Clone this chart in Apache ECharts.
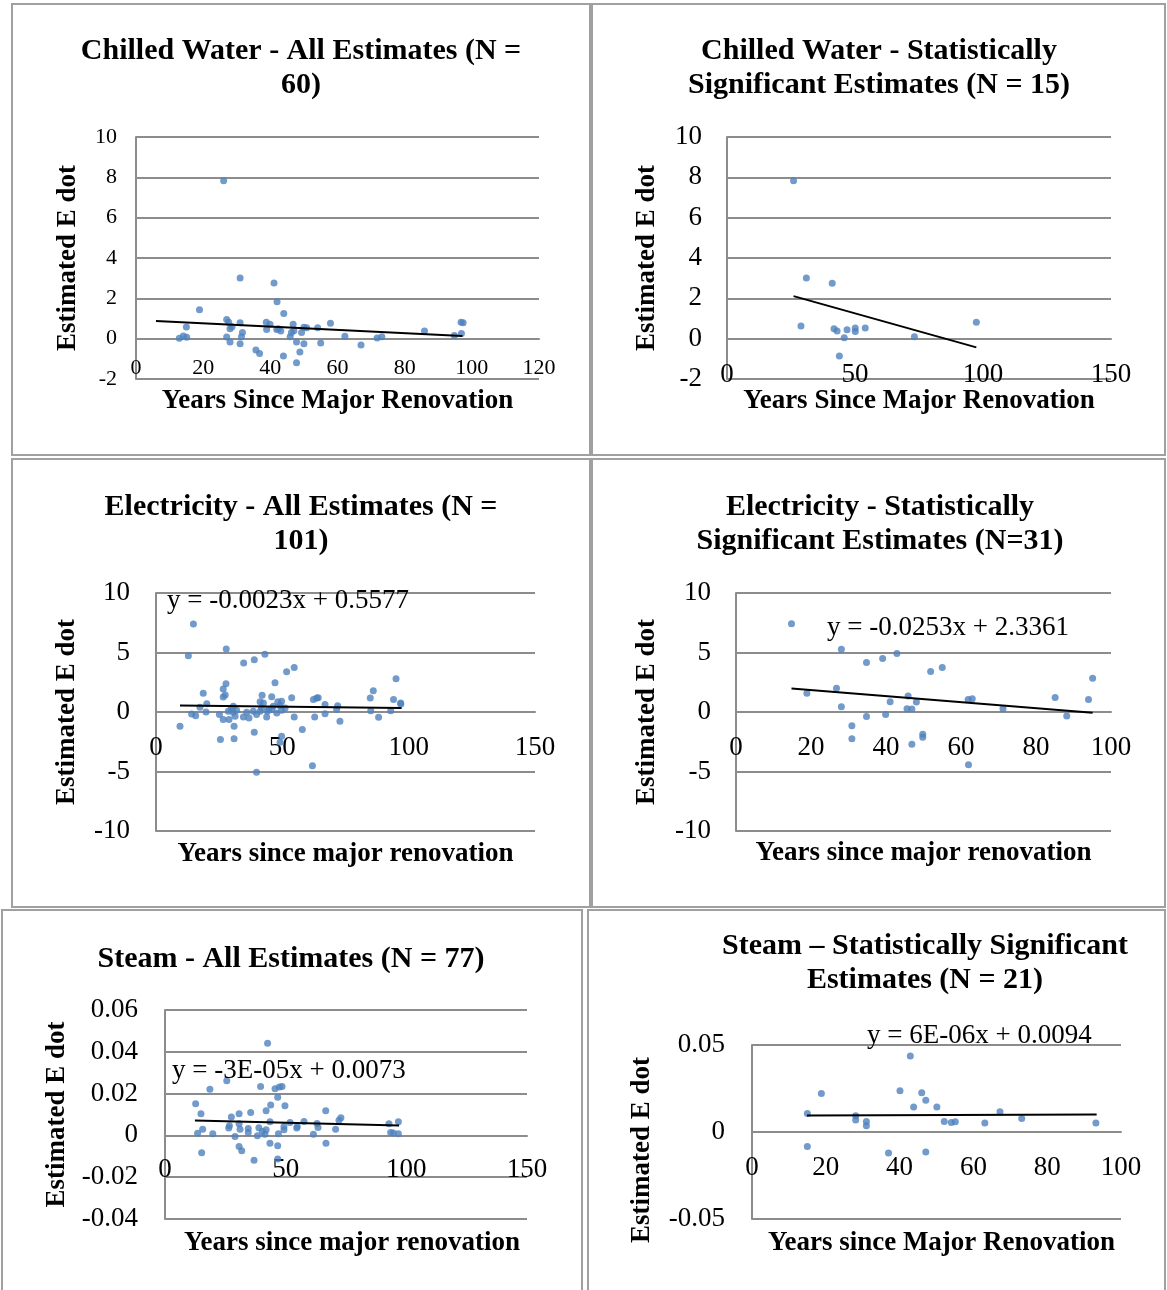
<!DOCTYPE html>
<html><head><meta charset="utf-8">
<script src="https://cdn.jsdelivr.net/npm/echarts@6/dist/echarts.min.js"></script>
<style>html,body{margin:0;padding:0;background:#fff}#c{width:1167px;height:1290px}</style>
</head><body><div id="c"></div>
<script>
// ---------- DATA ----------
// Chilled Water - All Estimates
const cwAllX = [26.1,31.0,41.1,42.0,18.9,44.0,15.0,12.9,14.1,15.1,27.0,27.6,28.0,28.6,27.0,28.0,31.0,31.7,31.0,31.4,35.7,36.8,38.8,39.9,38.9,41.9,43.1,43.9,46.8,47.0,45.9,47.8,47.8,48.8,50.0,49.3,50.0,50.8,54.1,55.0,57.9,62.2,67.0,71.8,73.2,85.9,94.8,96.9,96.8,97.4,46.3,42.4];
const cwAllY = [7.83,3.01,2.76,1.83,1.43,1.25,0.58,0.02,0.13,0.07,0.95,0.82,0.49,0.59,0.08,-0.16,0.79,0.30,-0.25,0.10,-0.56,-0.74,0.82,0.71,0.46,0.46,0.38,-0.86,0.71,0.39,0.10,-0.16,-1.20,-0.66,-0.25,0.30,0.56,0.54,0.54,-0.21,0.76,0.12,-0.31,0.03,0.10,0.38,0.16,0.26,0.82,0.79,0.30,0.49];
const cwAllTrendX = [5.95, 97.2];
const cwAllTrendY = [0.87, 0.13];
// Chilled Water - Statistically Significant
const cwSigX = [26.0,31.0,41.1,28.9,41.8,43.0,46.9,50.1,50.1,54.0,45.8,43.9,73.2,97.4];
const cwSigY = [7.83,3.01,2.75,0.63,0.49,0.38,0.44,0.53,0.36,0.53,0.05,-0.86,0.10,0.81];
const cwSigTrendX = [26.0, 97.4];
const cwSigTrendY = [2.11, -0.43];
// Electricity - All Estimates
const elAllX = [14.8,12.8,27.8,43.1,38.9,34.7,51.7,54.7,47.1,95.0,27.7,26.6,18.7,27.4,26.6,86.0,84.8,62.3,63.6,64.2,53.7,42.0,45.8,41.2,49.7,48.2,20.1,17.4,14.1,15.7,19.8,29.8,30.5,31.9,25.1,26.6,28.9,30.9,30.9,25.5,9.5,34.6,36.8,35.9,38.9,39.8,39.8,43.8,44.6,47.8,49.7,51.1,49.7,49.1,54.7,57.9,61.9,62.8,66.9,66.9,71.9,71.5,72.8,85.0,88.1,92.9,94.0,96.8,96.9,30.6,42.5,44.1,46.4,49.1,38.5,41.2,28.6,31.3,45.8,41.8];
const elAllY = [7.39,4.73,5.29,4.85,4.40,4.12,3.39,3.73,2.46,2.80,2.38,1.93,1.57,1.43,1.26,1.79,1.18,1.06,1.18,1.20,1.20,1.40,1.29,0.87,0.90,0.87,0.70,0.39,-0.17,-0.31,0.00,0.28,-0.03,0.14,-0.22,-0.62,-0.62,-1.20,-2.24,-2.32,-1.20,-0.42,-0.50,-0.03,-1.71,-5.07,-0.22,-0.42,0.20,-0.08,0.14,0.34,-2.04,-2.55,-0.42,-1.48,-4.51,-0.42,0.62,-0.14,0.53,0.20,-0.78,0.11,-0.45,0.11,1.04,0.76,0.67,0.48,0.76,0.06,0.48,0.53,0.06,0.06,0.06,-0.36,0.20,0.34];
const elAllTrendX = [9.5, 97.2];
const elAllTrendY = [0.536, 0.334];
// Electricity - Statistically Significant
const elSigX = [14.8,28.1,42.9,39.1,34.8,55.0,51.9,95.1,26.8,18.9,45.9,41.1,48.1,61.9,63.0,85.1,94.0,45.6,46.9,28.1,71.2,39.9,34.8,88.2,30.9,30.9,49.8,49.8,46.9,62.0];
const elSigY = [7.42,5.28,4.92,4.49,4.16,3.74,3.40,2.84,1.99,1.57,1.35,0.87,0.84,1.04,1.12,1.21,1.04,0.28,0.25,0.45,0.28,-0.22,-0.37,-0.34,-1.15,-2.25,-1.88,-2.13,-2.70,-4.44];
const elSigTrendX = [14.8, 95.1];
const elSigTrendY = [1.97, -0.07];
// Steam - All Estimates
const stAllX = [42.5,25.6,18.6,39.6,45.6,47.4,48.5,46.7,12.7,49.7,43.8,41.9,66.6,35.5,14.9,30.7,27.5,72.9,72.1,57.6,43.5,51.8,54.8,63.0,63.4,92.8,96.7,26.7,30.7,15.6,26.4,31.1,34.5,38.9,41.9,49.3,54.6,70.7,13.5,19.8,29.0,38.3,41.4,47.0,61.5,93.5,94.6,96.7,43.5,46.7,66.7,30.7,31.8,15.2,36.9,46.7,34.5,40.3,49.3];
const stAllY = [0.0441,0.0261,0.0221,0.0234,0.0223,0.0231,0.0234,0.0182,0.0151,0.0142,0.0146,0.0118,0.0118,0.0110,0.0104,0.0104,0.0088,0.0084,0.0072,0.0067,0.0065,0.0062,0.0043,0.0057,0.0038,0.0056,0.0065,0.0046,0.0056,0.0030,0.0035,0.0030,0.0033,0.0037,0.0027,0.0027,0.0035,0.0030,0.0010,0.0008,-0.0005,-0.0002,0.0006,0.0008,0.0006,0.0014,0.0011,0.0008,-0.0037,-0.0049,-0.0037,-0.0053,-0.0073,-0.0083,-0.0119,-0.0113,0.0014,0.0019,0.0043];
const stAllTrendX = [12.4, 97.0];
const stAllTrendY = [0.0071, 0.0047];
// Steam - Statistically Significant
const stSigX = [42.9,40.1,46.0,18.8,47.1,43.8,50.1,67.2,15.0,28.1,73.1,28.1,31.0,31.0,52.1,54.0,55.1,63.1,93.2,15.0,37.0,47.1];
const stSigY = [0.0437,0.0237,0.0225,0.0221,0.0183,0.0143,0.0143,0.0116,0.0107,0.0094,0.0078,0.0069,0.0061,0.0036,0.0061,0.0055,0.0059,0.0052,0.0052,-0.0084,-0.0120,-0.0115];
const stSigTrendX = [14.9, 93.4];
const stSigTrendY = [0.0095, 0.0100];

const chartTitles = [
  'Chilled Water - All Estimates (N =\n60)',
  'Chilled Water - Statistically\nSignificant Estimates (N = 15)',
  'Electricity - All Estimates (N =\n101)',
  'Electricity - Statistically\nSignificant Estimates (N=31)',
  'Steam - All Estimates (N = 77)',
  'Steam \u2013 Statistically Significant\nEstimates (N = 21)'
];
const xTitles = ['Years Since Major Renovation','Years Since Major Renovation','Years since major renovation','Years since major renovation','Years since major renovation','Years since Major Renovation'];
const yTitle = 'Estimated E dot';
const equations = ['', '', 'y = -0.0023x + 0.5577', 'y = -0.0253x + 2.3361', 'y = -3E-05x + 0.0073', 'y = 6E-06x + 0.0094'];
const xRanges = [[0,120,20],[0,150,50],[0,150,50],[0,100,20],[0,150,50],[0,100,20]];
const yRanges = [[-2,10,2],[-2,10,2],[-10,10,5],[-10,10,5],[-0.04,0.06,0.02],[-0.05,0.05,0.05]];

// ---------- LAYOUT ----------
const FONT = 'Liberation Serif';
const panels = [
  {box:[12,4,578,451],   grid:{left:136,top:137,width:403,height:242}, title:[301,34], tick:22, ym:19, xm:19, xg:49, yg:54, ypad:0, xpad:0},
  {box:[592,4,573,451],  grid:{left:727,top:137,width:384,height:242}, title:[879,34], tick:27, ym:25, xm:23, xg:49, yg:66, ypad:0, xpad:0},
  {box:[12,459,578,448], grid:{left:156,top:593,width:379,height:238}, title:[301,490], tick:27, ym:26, xm:22, xg:129, yg:75, ypad:0, xpad:0},
  {box:[592,459,573,448],grid:{left:736,top:593,width:375,height:238}, title:[880,490], tick:27, ym:25, xm:22, xg:128, yg:75, ypad:0, xpad:0},
  {box:[2,910,580,390],  grid:{left:165,top:1010,width:362,height:209}, title:[291,942], tick:27, ym:27, xm:21, xg:94, yg:94, ypad:0, xpad:12},
  {box:[588,910,577,390],grid:{left:752,top:1045,width:369,height:174}, title:[925,929], tick:27, ym:27, xm:22, xg:98, yg:96, ypad:36, xpad:10}
];
const eqPos = [null, null, [167,601], [827,628], [172,1071], [867,1036]];

const scatterX = [cwAllX, cwSigX, elAllX, elSigX, stAllX, stSigX];
const scatterY = [cwAllY, cwSigY, elAllY, elSigY, stAllY, stSigY];
const trendX = [cwAllTrendX, cwSigTrendX, elAllTrendX, elSigTrendX, stAllTrendX, stSigTrendX];
const trendY = [cwAllTrendY, cwSigTrendY, elAllTrendY, elSigTrendY, stAllTrendY, stSigTrendY];

const zip = (a, b) => a.map((v, i) => [v, b[i]]);
const GRID_C = '#8c8c8c';
// distance (px) from the plot bottom up to the y = 0 line, so the x axis sits on zero
const zeroOffset = (p, i) => -p.grid.height * (0 - yRanges[i][0]) / (yRanges[i][1] - yRanges[i][0]);

const option = {
  animation: false,
  backgroundColor: '#fff',
  textStyle: {fontFamily: FONT},
  title: panels.map((p, i) => ({
    text: chartTitles[i], left: p.title[0], top: p.title[1], textAlign: 'center', padding: 0,
    textStyle: {fontFamily: FONT, fontWeight: 'bold', fontSize: 30, lineHeight: 34, color: '#000'}
  })),
  grid: panels.map(p => Object.assign({containLabel: false, outerBoundsMode: 'none'}, p.grid)),
  xAxis: panels.map((p, i) => ({
    type: 'value', gridIndex: i, min: xRanges[i][0], max: xRanges[i][1], interval: xRanges[i][2],
    position: 'bottom', offset: zeroOffset(p, i),
    splitLine: {show: false},
    axisLine: {show: true, onZero: false, lineStyle: {color: GRID_C, width: 2}},
    axisTick: {show: false},
    axisLabel: {fontFamily: FONT, fontSize: p.tick, color: '#000', margin: p.xm, showMaxLabel: true, showMinLabel: true},
    name: xTitles[i], nameLocation: 'middle', nameGap: p.xg, nameMoveOverlap: false,
    nameTextStyle: {fontFamily: FONT, fontWeight: 'bold', fontSize: 27, color: '#000', padding: [0, 0, 0, p.xpad]}
  })),
  yAxis: panels.map((p, i) => ({
    type: 'value', gridIndex: i, min: yRanges[i][0], max: yRanges[i][1], interval: yRanges[i][2],
    splitLine: {show: true, lineStyle: {color: GRID_C, width: 2}},
    axisLine: {show: true, onZero: false, lineStyle: {color: GRID_C, width: 2}},
    axisTick: {show: false},
    axisLabel: {fontFamily: FONT, fontSize: p.tick, color: '#000', margin: p.ym},
    name: yTitle, nameLocation: 'middle', nameGap: p.yg, nameRotate: 90, nameMoveOverlap: false,
    nameTextStyle: {fontFamily: FONT, fontWeight: 'bold', fontSize: 27, color: '#000', padding: [0, p.ypad, 0, 0]}
  })),
  series: [].concat(
    panels.map((p, i) => ({
      type: 'scatter', xAxisIndex: i, yAxisIndex: i, data: zip(scatterX[i], scatterY[i]),
      symbol: 'circle', symbolSize: 7, itemStyle: {color: '#4f81bd'}, z: 2
    })),
    panels.map((p, i) => ({
      type: 'line', xAxisIndex: i, yAxisIndex: i, data: zip(trendX[i], trendY[i]),
      symbol: 'none', lineStyle: {color: '#000', width: 2}, z: 3, silent: true
    }))
  ),
  graphic: [].concat(
    panels.map(p => ({
      type: 'rect', shape: {x: p.box[0], y: p.box[1], width: p.box[2], height: p.box[3]},
      style: {fill: 'none', stroke: '#a0a0a0', lineWidth: 2}, z: 0, silent: true
    })),
    equations.map((t, i) => t ? ({
      type: 'text', x: eqPos[i][0], y: eqPos[i][1], z: 10,
      style: {text: t, fontFamily: FONT, fontSize: 27, fill: '#000', textVerticalAlign: 'middle', textAlign: 'left'}
    }) : null).filter(Boolean)
  )
};

const chart = echarts.init(document.getElementById('c'), null, {renderer: 'canvas'});
chart.setOption(option);
</script>
</body></html>
